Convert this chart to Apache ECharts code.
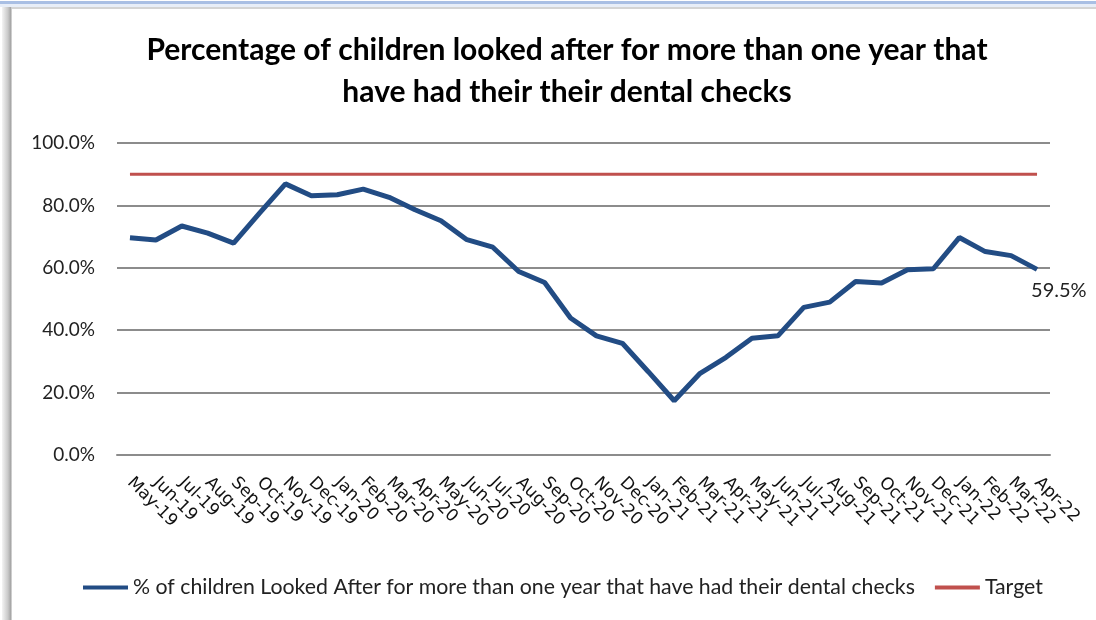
<!DOCTYPE html>
<html>
<head>
<meta charset="utf-8">
<script src="https://cdn.jsdelivr.net/npm/echarts@6/dist/echarts.min.js"></script>
<style>
  html, body { margin: 0; padding: 0; background: #ffffff; }
  #chart { width: 1096px; height: 620px; }
</style>
</head>
<body>
<div id="chart"></div>
<script>
// Monthly categories, May 2019 to April 2022
const months = [
  'May-19','Jun-19','Jul-19','Aug-19','Sep-19','Oct-19','Nov-19','Dec-19',
  'Jan-20','Feb-20','Mar-20','Apr-20','May-20','Jun-20','Jul-20','Aug-20',
  'Sep-20','Oct-20','Nov-20','Dec-20','Jan-21','Feb-21','Mar-21','Apr-21',
  'May-21','Jun-21','Jul-21','Aug-21','Sep-21','Oct-21','Nov-21','Dec-21',
  'Jan-22','Feb-22','Mar-22','Apr-22'
];

// % of children looked after for more than one year with dental checks
const dentalChecks = [
  69.6, 68.9, 73.4, 71.1, 67.9, 77.5, 86.9, 83.1,
  83.4, 85.2, 82.6, 78.6, 75.1, 69.0, 66.6, 58.8,
  55.3, 43.9, 38.2, 35.8, 26.7, 17.4, 26.2, 31.3,
  37.4, 38.2, 47.3, 49.0, 55.6, 55.1, 59.4, 59.7,
  69.7, 65.2, 63.9, 59.5
];

// Target level
const targetValue = 90;
const target = months.map(() => targetValue);

const titleText = 'Percentage of children looked after for more than one year that\nhave had their their dental checks';
const seriesName = '% of children Looked After for more than one year that have had their dental checks';
const targetName = 'Target';

const uiFont = "'Lato', sans-serif";

const chart = echarts.init(document.getElementById('chart'), null, { renderer: 'canvas' });

chart.setOption({
  backgroundColor: '#ffffff',
  animation: false,
  // window frame: light blue rule on top, grey shadow on the left
  graphic: [
    { type: 'rect', shape: { x: 0, y: 1, width: 1096, height: 3 }, style: { fill: '#a9bfe4' }, silent: true },
    { type: 'rect', shape: { x: 0, y: 4, width: 1096, height: 3 }, style: { fill: '#e8eef8' }, silent: true },
    { type: 'rect', shape: { x: 10, y: 7, width: 1086, height: 2 }, style: { fill: '#d4d4d4' }, silent: true },
    {
      type: 'rect', shape: { x: 2, y: 7, width: 10, height: 613 }, silent: true,
      style: {
        fill: new echarts.graphic.LinearGradient(0, 0, 1, 0, [
          { offset: 0, color: '#f4f4f4' },
          { offset: 0.6, color: '#c8c8c8' },
          { offset: 0.85, color: '#a8a8a8' },
          { offset: 1, color: '#e0e0e0' }
        ])
      }
    }
  ],
  title: {
    text: titleText,
    left: 562,
    top: 24,
    textAlign: 'center',
    textStyle: {
      fontFamily: uiFont,
      fontSize: 30,
      fontWeight: 'bold',
      color: '#000',
      lineHeight: 42
    }
  },
  legend: {
    bottom: 17,
    left: 78,
    itemWidth: 45,
    itemHeight: 4,
    itemGap: 20,
    icon: 'rect',
    textStyle: { fontFamily: uiFont, fontSize: 21.3, color: '#222' },
    data: [seriesName, targetName]
  },
  grid: { left: 117, right: 46, top: 143, bottom: 165, containLabel: false },
  xAxis: {
    type: 'category',
    data: months,
    boundaryGap: true,
    axisLine: { show: true, lineStyle: { color: '#8c8c8c', width: 2 } },
    axisTick: { show: false },
    axisLabel: {
      interval: 0,
      rotate: -45,
      margin: 25,
      fontFamily: "'DejaVu Sans', sans-serif",
      fontSize: 17,
      color: '#111'
    }
  },
  yAxis: {
    type: 'value',
    min: 0,
    max: 100,
    interval: 20,
    axisLine: { show: false },
    axisTick: { show: false },
    splitLine: { lineStyle: { color: '#8c8c8c', width: 2 } },
    axisLabel: {
      margin: 22,
      formatter: (v) => v.toFixed(1) + '%',
      fontFamily: uiFont,
      fontSize: 19,
      color: '#222'
    }
  },
  series: [
    {
      name: seriesName,
      type: 'line',
      data: dentalChecks,
      symbol: 'none',
      color: '#224c84',
      lineStyle: { color: '#224c84', width: 5 },
      endLabel: {
        show: true,
        formatter: (p) => Number(p.value).toFixed(1) + '%',
        offset: [-14, 21],
        fontFamily: uiFont,
        fontSize: 20,
        color: '#222'
      },
      z: 3
    },
    {
      name: targetName,
      type: 'line',
      data: target,
      symbol: 'none',
      color: '#c0504d',
      lineStyle: { color: '#c0504d', width: 3 },
      z: 2
    }
  ]
});
</script>
</body>
</html>
